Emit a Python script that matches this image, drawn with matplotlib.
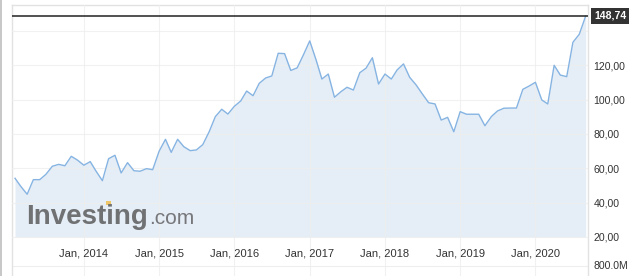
import numpy as np
import pandas as pd
import matplotlib
matplotlib.use("Agg")
import matplotlib.pyplot as plt
import matplotlib.dates as mdates
import matplotlib.transforms as mtransforms
from matplotlib.patches import Rectangle

plt.rcParams['font.family'] = ['Liberation Sans', 'DejaVu Sans']

# monthly closes, Feb 2013 .. Sep 2020
start_month = '2013-02-01'
prices = [54.2, 49.5, 44.9, 53.4, 53.4, 56.5, 61.2, 62.3, 61.5, 67.0,
          64.8, 61.8, 63.9, 58.4, 52.8, 65.6, 67.6, 57.3, 63.3, 58.6,
          58.3, 59.8, 59.2, 69.9, 76.9, 69.3, 76.9, 72.6, 70.3, 70.7,
          73.8, 81.3, 90.1, 94.4, 91.6, 96.1, 99.2, 105.0, 102.3, 109.5,
          112.6, 113.8, 127.0, 126.8, 117.0, 118.5, 126.0, 134.2, 123.1, 112.0,
          114.9, 101.4, 104.6, 107.2, 105.6, 115.7, 118.3, 124.4, 109.1, 114.9,
          112.0, 117.3, 120.8, 113.0, 108.6, 103.4, 98.2, 97.5, 88.1, 89.7,
          81.3, 93.0, 91.5, 91.5, 91.5, 84.8, 90.1, 93.4, 95.0, 95.1,
          95.1, 106.0, 107.9, 110.1, 99.8, 97.5, 120.0, 114.3, 113.4, 133.4,
          138.1, 148.74]
last_label = '148,74'
y_ticks = [20, 40, 60, 80, 100, 120, 140]
y_labels = ['20,00', '40,00', '60,00', '80,00', '100,00', '120,00', '']
x_years = [2014, 2015, 2016, 2017, 2018, 2019, 2020]
x_labels = ['Jan, %d' % y for y in x_years]
volume_label = '800.0M'

dates = pd.date_range(start_month, periods=len(prices), freq='MS')
xd = mdates.date2num(dates)
prices = np.array(prices)

W, H = 639, 276
fig = plt.figure(figsize=(W / 100, H / 100), dpi=100)
ax = fig.add_axes([12 / W, 0, (588 - 12) / W, 1 - 5 / H])

base = 20
line_col = '#86b4e2'
fill_col = '#e5edf6'
ax.fill_between(xd, prices, base, color=fill_col, lw=0, zorder=1)
ax.plot(xd, prices, color=line_col, lw=1.0, zorder=3)
ax.axhline(prices[-1], color='#222222', lw=1.1, zorder=4)

ax.set_xlim(xd[0] - 14.6, xd[-1] + 11.2)
ax.set_ylim(20 - 39 / 1.717, 20 + 232 / 1.717)

jan = mdates.date2num(pd.to_datetime(['%d-01-01' % y for y in x_years]))
ax.set_xticks(jan)
ax.set_yticks(y_ticks)
ax.set_yticklabels(y_labels)
ax.yaxis.tick_right()
ax.tick_params(axis='y', length=0, pad=4, labelsize=7.6, labelcolor='#333333')
ax.tick_params(axis='x', length=0, labelbottom=False)
ax.grid(True, color='#eeeeee', lw=0.8, alpha=0.8, zorder=2)
ax.set_axisbelow(False)
for s in ['top', 'left', 'right']:
    ax.spines[s].set_color('#e2e2e2')
    ax.spines[s].set_linewidth(1)
ax.spines['bottom'].set_visible(False)

# x labels sit between the price pane and the volume pane
lbl_tr = mtransforms.blended_transform_factory(ax.transData, ax.transAxes)
for d, t in zip(jan, x_labels):
    ax.text(d, (H - 253) / (H - 5), t, transform=lbl_tr, ha='center', va='center',
            fontsize=8, color='#333333')

# volume pane separator
ax.plot([0, 1], [(H - 266) / (H - 5)] * 2, transform=ax.transAxes, color='#eeeeee', lw=0.8)
ax.text(1.0, (H - 266) / (H - 5), volume_label,
        transform=mtransforms.offset_copy(ax.transAxes, fig=fig, x=5, units='dots'),
        ha='left', va='center', fontsize=7.6, color='#333333', clip_on=False)

# last price tag
tag_tr = mtransforms.offset_copy(mtransforms.blended_transform_factory(ax.transAxes, ax.transData),
                                 fig=fig, x=6, units='dots')
ax.text(1.0, prices[-1], last_label, transform=tag_tr, ha='left', va='center',
        fontsize=7.6, fontweight='bold', color='white', clip_on=False,
        bbox=dict(boxstyle='square,pad=0.3', fc='#333333', ec='none'))

# watermark
wm = fig.text(26 / W, 1 - 224 / H, 'Investing', fontsize=20, fontweight='bold',
              color='#707173', va='baseline', ha='left')
r = fig.canvas.get_renderer()
bb = wm.get_window_extent(r)
fig.text((bb.x1 + 1) / W, 1 - 224 / H, '.com', fontsize=15, color='#76777a',
         va='baseline', ha='left')
fig.add_artist(Rectangle(((bb.x0 + 0.66 * bb.width) / W, 1 - 205 / H), 5 / W, 4 / H,
                         transform=fig.transFigure, color='#efc56a', lw=0))

# grey strip at the left edge
fig.add_artist(Rectangle((0, 0), 2 / W, 1, transform=fig.transFigure, color='#c8c8c8', lw=0))

fig.savefig('out.png', dpi=100)
